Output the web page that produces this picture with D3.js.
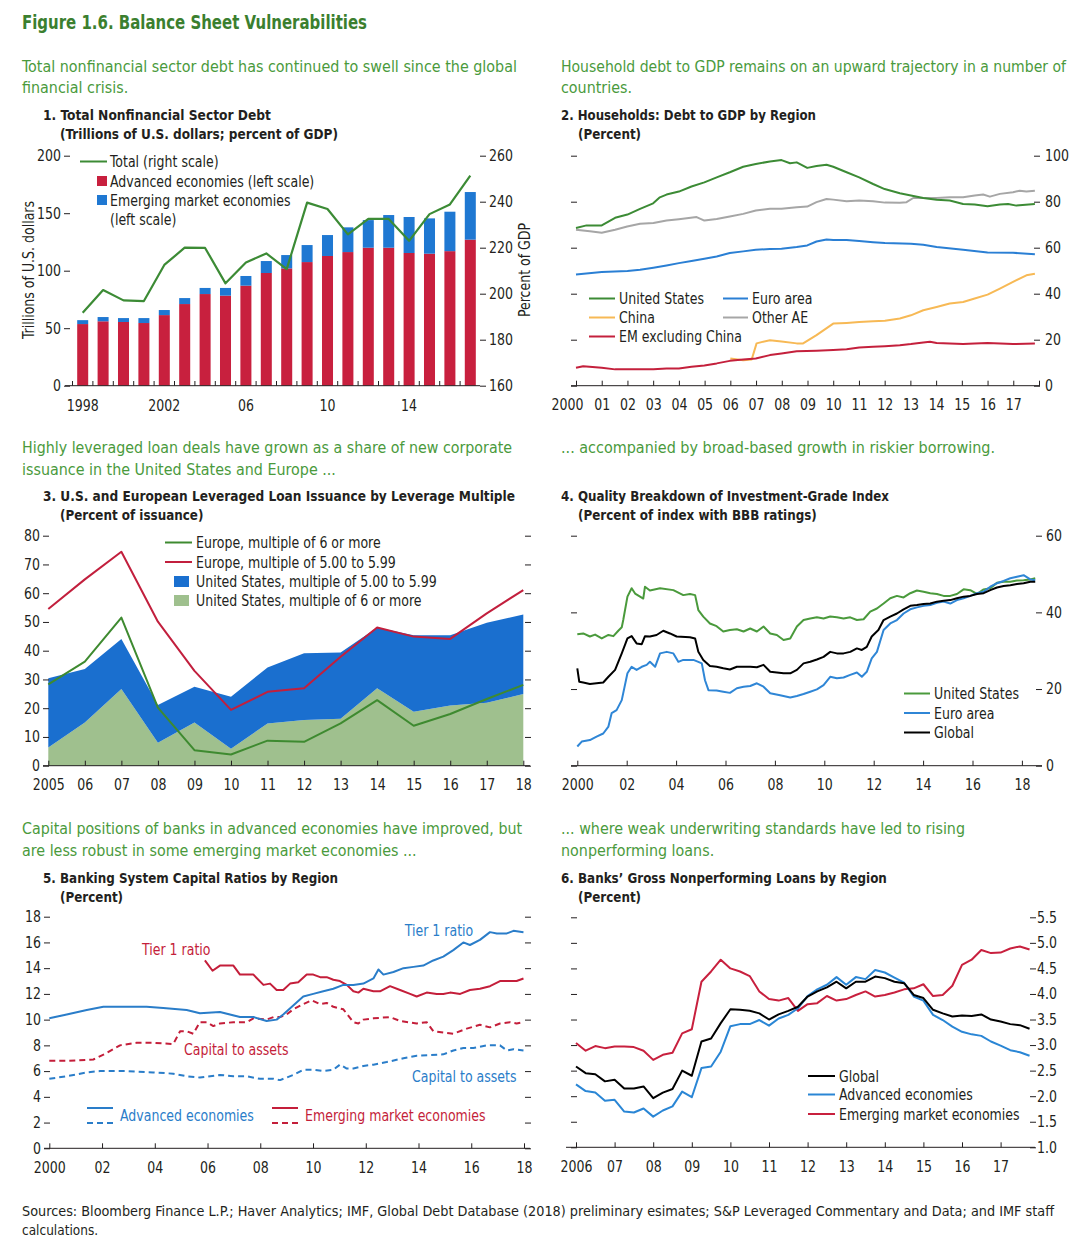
<!DOCTYPE html>
<html><head><meta charset="utf-8">
<script src="https://cdn.jsdelivr.net/npm/d3@7"></script>
<style>
body{margin:0;background:#fff;}
svg text{font-family:"Liberation Sans Narrow","DejaVu Sans Condensed","Arial Narrow",sans-serif;}
</style></head><body>
<svg id="c" width="1088" height="1242"></svg>
<script>
// ---------------- DATA ----------------
// Panel 1
const p1Years = ["1998","1999","2000","2001","2002","2003","2004","2005","2006","2007","2008","2009","2010","2011","2012","2013","2014","2015","2016","2017"];
const p1Adv = [53.6,56,55.4,54.5,61.4,71,79.7,78.3,87,98,102,107.5,112.8,116.2,120,120,115.4,114.8,117,127];
const p1EM  = [3.4,3.7,3.4,4.3,4.4,5.2,5.3,6.7,8.4,10.4,11.6,14.8,18.2,21.5,24,28.4,31.3,30.7,34.3,41.4];
const p1TotalGDP = [191.7,201.6,197.1,196.8,212.5,220,219.9,204.5,213.6,217.5,210.7,239.6,236.8,225.8,232.5,232.5,223,234.6,238.8,251.3];
const p1TickLabels = {"1998":"1998","2002":"2002","2006":"06","2010":"10","2014":"14"};

// Panel 2 ([year, percent])
const p2US = [[2000,68.6],[2000.41,69.7],[2001,69.7],[2001.52,73],[2002,74.4],[2002.49,76.9],[2003,79.3],[2003.26,81.9],[2003.52,83.1],[2004,84.4],[2004.49,86.6],[2004.99,88.4],[2005.47,90.6],[2005.98,92.8],[2006.5,95.2],[2006.99,96.4],[2007.54,97.5],[2007.99,98.1],[2008.32,96.7],[2008.58,97.1],[2008.99,94.7],[2009.35,95.5],[2009.74,96.1],[2010,95.2],[2010.52,92.8],[2011.01,90.6],[2011.55,87.7],[2012,85.5],[2012.59,83.7],[2013.02,82.7],[2013.5,81.6],[2014.02,80.8],[2014.53,80.5],[2015.05,79],[2015.5,78.8],[2016,78],[2016.48,78.8],[2016.8,79],[2017.12,78.3],[2017.84,79]];
const p2Other = [[2000,67.8],[2000.54,67.2],[2001,66.5],[2001.52,67.8],[2001.99,69.2],[2002.49,70.4],[2003.01,70.7],[2003.52,71.8],[2004,72.4],[2004.69,73.3],[2004.99,71.8],[2005.47,72.5],[2005.98,73.6],[2006.5,74.7],[2006.99,76.2],[2007.54,76.9],[2007.99,76.9],[2008.58,77.6],[2008.99,77.9],[2009.35,79.8],[2009.74,81.2],[2010,80.9],[2010.52,80.2],[2011.01,80.5],[2011.55,80.2],[2012.01,79.6],[2012.59,79.5],[2012.85,79.8],[2013.11,81.6],[2013.5,81.6],[2014.02,81.6],[2014.53,81.9],[2015.05,81.9],[2015.5,82.7],[2015.83,83.1],[2016.09,82.2],[2016.48,83.4],[2016.99,84.1],[2017.25,84.8],[2017.51,84.4],[2017.84,84.8]];
const p2Euro = [[2000,48.4],[2001,49.4],[2002,49.9],[2002.49,50.4],[2003.01,51.3],[2003.52,52.3],[2004,53.3],[2004.49,54.2],[2004.99,55.2],[2005.47,56.2],[2005.98,57.7],[2006.5,58.4],[2006.99,59.1],[2007.54,59.4],[2007.99,59.5],[2008.58,60.3],[2008.99,61],[2009.35,62.7],[2009.74,63.6],[2010,63.4],[2010.52,63.4],[2011.01,62.9],[2011.55,62.4],[2012.01,62],[2013.02,61.7],[2013.5,61.3],[2014.02,60.3],[2015.05,59.1],[2016,57.9],[2016.99,57.8],[2017.84,57.1]];
const p2China = [[2006,11.8],[2006.5,11.1],[2006.83,11.4],[2007.02,18.4],[2007.54,19.8],[2007.99,19.2],[2008.58,18.4],[2008.83,18.4],[2009.35,22],[2010,27],[2010.52,27.3],[2011.01,27.7],[2011.55,28],[2012.01,28.2],[2012.59,29.2],[2013.02,30.6],[2013.5,32.8],[2014.02,34.2],[2014.53,35.7],[2015.05,36.4],[2015.5,37.9],[2016,39.6],[2016.48,42.2],[2016.99,45.1],[2017.51,48],[2017.84,48.7]];
const p2EMx = [[2000,7.8],[2000.28,8.5],[2001,7.8],[2001.52,7.1],[2001.99,7.1],[2003.01,7.1],[2003.52,7.5],[2004,7.5],[2004.49,8.2],[2004.99,8.8],[2005.47,9.7],[2005.98,10.8],[2006.5,11.4],[2006.99,11.8],[2007.54,13.3],[2007.99,14],[2008.58,15],[2009.35,15.2],[2010,15.5],[2010.52,15.8],[2011.01,16.6],[2011.55,16.9],[2012.01,17.2],[2012.59,17.6],[2013.02,18.1],[2013.5,18.8],[2013.76,19.1],[2014.02,18.6],[2014.53,18.4],[2015.05,18.1],[2015.5,18.4],[2016,18.6],[2016.99,18.1],[2017.84,18.4]];
const p2Ticks = [2000,2001,2002,2003,2004,2005,2006,2007,2008,2009,2010,2011,2012,2013,2014,2015,2016,2017,2018];
const p2TickLabels = ["2000","01","02","03","04","05","06","07","08","09","10","11","12","13","14","15","16","17",""];

// Panel 3
const p3Years = [2005,2006,2007,2008,2009,2010,2011,2012,2013,2014,2015,2016,2017,2018];
const p3USsix  = [6.3,15,26.7,8,15,5.9,14.7,15.9,16.3,26.9,18.8,20.9,21.9,24.9];
const p3USfive = [24.1,18.6,17.4,13.1,12.5,18.1,19.5,23.2,23.1,21.2,26.6,24.5,27.8,27.7];
const p3EUsix  = [28.3,36.2,51.5,20.2,5.4,3.9,8.7,8.3,14.7,22.8,13.9,18,23.2,28.1];
const p3EUfive = [54.5,64.8,74.4,50.1,33,19.4,25.7,26.9,37.9,48.1,44.9,44.1,53,61.1];
const p3TickLabels = ["2005","06","07","08","09","10","11","12","13","14","15","16","17","18"];

// Panel 4 ([year, percent BBB])
const p4US = [[2000,34.3],[2000.24,34.5],[2000.51,33.7],[2000.72,34.2],[2000.99,33.2],[2001.26,34.1],[2001.46,33.8],[2001.66,35.2],[2001.8,36.1],[2001.86,38],[2002.03,44.1],[2002.2,46.3],[2002.34,44.9],[2002.54,44.1],[2002.67,43.6],[2002.74,46.7],[2002.94,45.7],[2003.35,46.3],[2003.89,45.8],[2004.29,44.5],[2004.56,44.8],[2004.77,44.5],[2004.9,40.6],[2005.1,38.9],[2005.37,37.1],[2005.64,36.4],[2005.91,35],[2006.18,35.4],[2006.46,35.6],[2006.73,35],[2007,35.8],[2007.27,35],[2007.54,36.3],[2007.81,34.5],[2008.08,34.1],[2008.35,32.8],[2008.62,33.2],[2008.89,36.3],[2009.16,38],[2009.43,38.4],[2009.7,38.7],[2009.97,38.4],[2010.24,38.9],[2010.51,38.7],[2010.78,38.4],[2011.05,38.7],[2011.32,38],[2011.59,38.2],[2011.86,40.2],[2012.13,41],[2012.4,42.3],[2012.67,43.7],[2012.94,44.3],[2013.21,43.9],[2013.48,45],[2013.75,45.7],[2014.02,45.4],[2014.29,45],[2014.56,44.8],[2014.83,44.3],[2015.1,44.3],[2015.37,44.8],[2015.64,46],[2015.91,45.8],[2016.18,44.8],[2016.45,46],[2016.72,46.3],[2016.99,47.7],[2017.26,48],[2017.53,48],[2017.8,48.3],[2018.07,48.4],[2018.34,48.6],[2018.54,48.9]];
const p4EU = [[2000,5],[2000.18,6.3],[2000.51,6.7],[2000.78,7.6],[2001.05,8.4],[2001.26,10.2],[2001.39,13.7],[2001.59,14.5],[2001.8,17.1],[2002.03,24.1],[2002.2,25.8],[2002.4,25],[2002.61,25.8],[2002.81,26.3],[2002.94,27.1],[2003.15,25.8],[2003.35,29.3],[2003.62,29.7],[2003.89,29.3],[2004.09,27.1],[2004.29,27.6],[2004.7,27.6],[2004.9,27.1],[2005.04,26.7],[2005.17,22.3],[2005.31,19.7],[2005.64,19.6],[2005.91,19.3],[2006.18,19],[2006.46,20.2],[2006.73,20.6],[2007,20.8],[2007.27,21.5],[2007.54,20.6],[2007.81,18.9],[2008.21,18.4],[2008.62,17.8],[2008.89,18.2],[2009.16,18.7],[2009.43,19.3],[2009.7,19.9],[2009.97,21],[2010.24,23.2],[2010.51,22.8],[2010.78,23],[2011.05,23.7],[2011.32,24.3],[2011.52,23.2],[2011.72,24.5],[2011.92,28],[2012.13,29.7],[2012.4,35.4],[2012.67,37.1],[2012.94,38],[2013.21,39.7],[2013.48,40.8],[2013.75,41.3],[2014.02,41.7],[2014.29,41.9],[2014.56,42.5],[2014.83,42.8],[2015.1,42.3],[2015.37,43.2],[2015.64,43.7],[2015.91,44.3],[2016.18,45],[2016.45,45.4],[2016.72,46.7],[2016.99,47.6],[2017.26,48.2],[2017.53,48.9],[2017.8,49.3],[2018.07,49.7],[2018.34,48.6],[2018.54,48.4]];
const p4GL = [[2000,25.4],[2000.08,21.9],[2000.24,21.7],[2000.51,21.3],[2000.78,21.5],[2001.05,21.7],[2001.26,23.2],[2001.53,25],[2001.8,29.3],[2002.03,33.2],[2002.2,33.8],[2002.4,31.9],[2002.61,31.7],[2002.74,33.8],[2002.94,33.7],[2003.21,34.1],[2003.48,35.2],[2003.75,34.5],[2004.02,33.7],[2004.56,33.5],[2004.77,33.2],[2004.9,29.7],[2005.1,27.6],[2005.37,26],[2005.64,25.8],[2005.91,25.4],[2006.18,25.1],[2006.46,25.8],[2006.73,25.8],[2007,25.8],[2007.27,25.7],[2007.54,26.3],[2007.81,24.5],[2008.08,24.3],[2008.35,24.1],[2008.62,24.1],[2008.89,25],[2009.16,26.7],[2009.43,27.1],[2009.7,27.7],[2009.97,28.4],[2010.24,29.7],[2010.51,29.3],[2010.78,29.3],[2011.05,29.7],[2011.32,30.6],[2011.52,30.2],[2011.72,31],[2011.92,33.7],[2012.19,35.4],[2012.4,38],[2012.67,38.9],[2012.94,39.7],[2013.21,40.8],[2013.48,41.7],[2013.75,41.9],[2014.02,42.2],[2014.29,42.3],[2014.56,42.8],[2014.83,43],[2015.1,43.2],[2015.37,43.7],[2015.64,44.1],[2015.91,44.3],[2016.18,44.8],[2016.45,45],[2016.72,45.8],[2016.99,46.5],[2017.26,46.9],[2017.53,47.1],[2017.8,47.4],[2018.07,47.6],[2018.34,48],[2018.54,48]];
const p4Ticks = [2000,2002,2004,2006,2008,2010,2012,2014,2016,2018];
const p4TickLabels = ["2000","02","04","06","08","10","12","14","16","18"];

// Panel 5 ([year, percent])
const p5AEtier1 = [[2000,10.1],[2000.66,10.4],[2001.42,10.75],[2002.05,11],[2002.68,11],[2003.69,11],[2004.32,10.9],[2005.21,10.75],[2005.71,10.5],[2006.47,10.6],[2007.23,10.2],[2007.74,10.2],[2008.24,9.9],[2008.62,10],[2008.87,10.4],[2009.25,11.1],[2009.63,11.8],[2010.01,12],[2010.39,12.2],[2010.77,12.4],[2011.15,12.7],[2011.53,12.7],[2011.91,12.8],[2012.29,13.2],[2012.48,13.9],[2012.67,13.5],[2013.05,13.7],[2013.43,14],[2013.81,14.1],[2014.18,14.2],[2014.56,14.6],[2014.94,14.9],[2015.32,15.4],[2015.7,16],[2015.95,15.8],[2016.33,16.2],[2016.71,16.8],[2016.97,16.7],[2017.35,16.7],[2017.6,16.9],[2017.98,16.8]];
const p5AEcap = [[2000,5.4],[2000.66,5.6],[2001.42,5.9],[2001.92,6],[2002.93,6],[2003.94,5.9],[2004.7,5.8],[2005.21,5.6],[2005.71,5.5],[2006.47,5.7],[2006.98,5.6],[2007.48,5.6],[2007.99,5.4],[2008.5,5.4],[2008.75,5.3],[2009.25,5.7],[2009.63,6.1],[2010.01,6.1],[2010.39,6],[2010.77,6.1],[2011.02,6.5],[2011.28,6.2],[2011.53,6.2],[2011.91,6.4],[2012.29,6.5],[2012.79,6.7],[2013.43,7],[2013.93,7.2],[2014.94,7.3],[2015.32,7.6],[2015.7,7.8],[2016.08,7.8],[2016.59,8],[2017.09,8],[2017.35,7.6],[2017.6,7.7],[2017.98,7.6]];
const p5EMtier1 = [[2005.9,14.6],[2006.19,13.8],[2006.47,14.2],[2006.73,14.2],[2006.98,14.2],[2007.23,13.5],[2007.74,13.5],[2008.12,12.7],[2008.37,12.8],[2008.62,12.3],[2008.87,12.3],[2009.13,12.8],[2009.44,12.9],[2009.76,13.5],[2010.01,13.5],[2010.27,13.3],[2010.52,13.3],[2010.77,13.1],[2011.02,13],[2011.28,12.7],[2011.53,12.2],[2011.72,12.1],[2011.91,12.4],[2012.29,12.2],[2012.54,12.2],[2012.92,12.6],[2013.3,12.3],[2013.68,12],[2013.93,11.8],[2014.31,12.1],[2014.69,12],[2014.94,12],[2015.2,12.1],[2015.58,12],[2015.95,12.3],[2016.33,12.4],[2016.71,12.6],[2017.09,13],[2017.47,13],[2017.72,13],[2017.98,13.2]];
const p5EMcap = [[2000,6.8],[2000.66,6.8],[2001.67,6.9],[2002.17,7.4],[2002.68,8],[2003.31,8.2],[2003.94,8.2],[2004.7,8.1],[2004.96,9.1],[2005.21,9.1],[2005.46,8.9],[2005.71,9.8],[2005.97,9.8],[2006.22,9.5],[2006.47,9.7],[2006.98,9.8],[2007.48,9.8],[2007.74,10.1],[2008.24,10],[2008.5,10.2],[2008.75,10.2],[2009,10.4],[2009.25,10.8],[2009.63,11.2],[2009.95,11.5],[2010.27,11.2],[2010.52,11.3],[2010.77,11],[2011.15,10.8],[2011.53,9.8],[2011.72,9.7],[2011.91,10],[2012.29,10.1],[2012.92,10.2],[2013.3,9.9],[2013.93,9.7],[2014.31,9.8],[2014.56,9.1],[2014.94,9],[2015.32,8.9],[2015.83,9.3],[2016.33,9.6],[2016.71,9.4],[2017.09,9.7],[2017.47,9.8],[2017.72,9.7],[2017.98,9.8]];
const p5Ticks = [2000,2002,2004,2006,2008,2010,2012,2014,2016,2018];
const p5TickLabels = ["2000","02","04","06","08","10","12","14","16","18"];

// Panel 6 (quarterly)
const p6Quarters = ["2006Q1","2006Q2","2006Q3","2006Q4","2007Q1","2007Q2","2007Q3","2007Q4","2008Q1","2008Q2","2008Q3","2008Q4","2009Q1","2009Q2","2009Q3","2009Q4","2010Q1","2010Q2","2010Q3","2010Q4","2011Q1","2011Q2","2011Q3","2011Q4","2012Q1","2012Q2","2012Q3","2012Q4","2013Q1","2013Q2","2013Q3","2013Q4","2014Q1","2014Q2","2014Q3","2014Q4","2015Q1","2015Q2","2015Q3","2015Q4","2016Q1","2016Q2","2016Q3","2016Q4","2017Q1","2017Q2","2017Q3","2017Q4"];
const p6Global = [2.58,2.45,2.43,2.29,2.32,2.15,2.15,2.19,1.96,2.07,2.14,2.5,2.4,3.07,3.13,3.43,3.7,3.69,3.67,3.62,3.5,3.6,3.67,3.75,3.95,4.05,4.13,4.24,4.11,4.24,4.24,4.34,4.31,4.24,4.21,3.98,3.92,3.69,3.62,3.56,3.58,3.57,3.6,3.5,3.46,3.41,3.39,3.32];
const p6AE = [2.23,2.1,2.07,1.91,1.93,1.7,1.68,1.76,1.6,1.72,1.8,2.09,1.98,2.55,2.58,2.87,3.37,3.41,3.41,3.49,3.38,3.52,3.59,3.72,3.96,4.09,4.18,4.33,4.18,4.33,4.29,4.47,4.42,4.32,4.22,3.95,3.87,3.59,3.49,3.36,3.26,3.21,3.18,3.07,2.99,2.9,2.86,2.79];
const p6EM = [3.04,2.89,2.98,2.94,2.97,2.97,2.96,2.89,2.71,2.81,2.85,3.23,3.31,4.24,4.44,4.67,4.5,4.44,4.35,4.05,3.9,3.87,3.92,3.67,3.8,3.82,3.96,3.87,3.9,3.98,4.05,3.95,3.98,4.03,4.09,4.11,4.19,3.96,3.98,4.16,4.57,4.67,4.86,4.8,4.81,4.89,4.93,4.87];
const p6Ticks = [2006,2007,2008,2009,2010,2011,2012,2013,2014,2015,2016,2017];
const p6TickLabels = ["2006","07","08","09","10","11","12","13","14","15","16","17"];
const p6YTicks = [1.0,1.5,2.0,2.5,3.0,3.5,4.0,4.5,5.0,5.5];

// ---------------- DRAW ----------------
const svg = d3.select("#c");
const INK = "#231f20";
const G_TITLE = "#3b7f2f", G_SUB = "#4a9a3c";

function squeeze(node, k, target) {
  const w = node.getComputedTextLength();
  if (!w) return;
  node.setAttribute("textLength", target || w * k);
  node.setAttribute("lengthAdjust", "spacingAndGlyphs");
}
function T(x, y, s, o = {}) {
  const t = svg.append("text").attr("x", x).attr("y", y).text(s)
    .attr("font-size", o.size || (o.bold ? 14.6 : 15)).attr("font-weight", o.bold ? "bold" : "normal")
    .attr("fill", o.fill || INK).attr("text-anchor", o.anchor || "start");
  squeeze(t.node(), o.k || (o.bold ? 0.91 : 0.93), o.width);
  return t;
}
function styleAxis(g) {
  g.attr("font-family", null).attr("font-size", 15);
  g.selectAll("text").attr("fill", INK).each(function () { squeeze(this, 0.93); });
  g.selectAll("line").attr("stroke", INK);
  g.select(".domain").remove();
}
function hline(x1, x2, y) {
  svg.append("line").attr("x1", x1).attr("x2", x2).attr("y1", y).attr("y2", y).attr("stroke", INK).attr("stroke-width", 1);
}
function leftAxis(y, x0, vals, fmt) {
  svg.append("g").attr("transform", `translate(${x0},0)`)
    .call(d3.axisLeft(y).tickValues(vals).tickSize(6).tickPadding(3).tickFormat(fmt || (() => "")))
    .call(styleAxis);
}
function rightAxis(y, x0, vals, fmt, pad) {
  svg.append("g").attr("transform", `translate(${x0},0)`)
    .call(d3.axisRight(y).tickValues(vals).tickSize(6).tickPadding(pad == null ? 3 : pad).tickFormat(fmt || (() => "")))
    .call(styleAxis);
}
function bottomAxis(x, y0, vals, labels, x1, x2, firstDx) {
  hline(x1, x2, y0);
  const g = svg.append("g").attr("transform", `translate(0,${y0})`)
    .call(d3.axisBottom(x).tickValues(vals).tickSizeInner(-5).tickSizeOuter(0).tickPadding(14)
      .tickFormat((d, i) => labels[i]))
    .call(styleAxis);
  if (firstDx) g.select(".tick text").attr("dx", firstDx);
}
function legendLine(x1, x2, y, color, label, dash) {
  svg.append("line").attr("x1", x1).attr("x2", x2).attr("y1", y).attr("y2", y)
    .attr("stroke", color).attr("stroke-width", 2).attr("stroke-dasharray", dash || null);
  if (label) T(x2 + 4, y + 5.5, label);
}
function path(data, line, color, w, dash) {
  svg.append("path").datum(data).attr("d", line).attr("fill", "none")
    .attr("stroke", color).attr("stroke-width", w || 2).attr("stroke-linejoin", "round")
    .attr("stroke-dasharray", dash || null);
}

// Header & footer
T(22, 29, "Figure 1.6. Balance Sheet Vulnerabilities", {size: 20, bold: true, fill: G_TITLE, width: 345});
T(22, 1216, "Sources: Bloomberg Finance L.P.; Haver Analytics; IMF, Global Debt Database (2018) preliminary esimates; S&P Leveraged Commentary and Data; and IMF staff", {size: 14.5, width: 1032});
T(22, 1235, "calculations.", {size: 14.5});

// Subtitles / titles
const SUB = {size: 16.4, fill: G_SUB, k: 0.97};
T(22, 72, "Total nonfinancial sector debt has continued to swell since the global", {...SUB, width: 495});
T(22, 93, "financial crisis.", SUB);
T(43, 120, "1. Total Nonfinancial Sector Debt", {bold: true, width: 228});
T(60, 139, "(Trillions of U.S. dollars; percent of GDP)", {bold: true, width: 278});

T(561, 72, "Household debt to GDP remains on an upward trajectory in a number of", {...SUB, size: 15.8, width: 505});
T(561, 93, "countries.", SUB);
T(561, 120, "2. Households: Debt to GDP by Region", {bold: true, width: 255});
T(578, 139, "(Percent)", {bold: true});

T(22, 453, "Highly leveraged loan deals have grown as a share of new corporate", {...SUB, width: 490});
T(22, 475, "issuance in the United States and Europe ...", SUB);
T(43, 501, "3. U.S. and European Leveraged Loan Issuance by Leverage Multiple", {bold: true, width: 472});
T(60, 520, "(Percent of issuance)", {bold: true});

T(561, 453, "... accompanied by broad-based growth in riskier borrowing.", {...SUB, width: 434});
T(561, 501, "4. Quality Breakdown of Investment-Grade Index", {bold: true, width: 328});
T(578, 520, "(Percent of index with BBB ratings)", {bold: true});

T(22, 834, "Capital positions of banks in advanced economies have improved, but", {...SUB, width: 500});
T(22, 856, "are less robust in some emerging market economies ...", SUB);
T(43, 883, "5. Banking System Capital Ratios by Region", {bold: true});
T(60, 902, "(Percent)", {bold: true});

T(561, 834, "... where weak underwriting standards have led to rising", {...SUB, width: 404});
T(561, 856, "nonperforming loans.", SUB);
T(561, 883, "6. Banks\u2019 Gross Nonperforming Loans by Region", {bold: true});
T(578, 902, "(Percent)", {bold: true});

// ---------- Panel 1 ----------
{
  const RED = "#c8203e", BLUE = "#1f78d2", GREEN = "#3c8b35";
  const x = d3.scaleBand().domain(p1Years).range([72.5, 480.5]).paddingInner(0.46).paddingOuter(0.23);
  const yL = d3.scaleLinear().domain([0, 200]).range([385.7, 155.7]);
  const yR = d3.scaleLinear().domain([160, 260]).range([385.7, 155.7]);
  const rows = p1Years.map((yr, i) => ({yr, adv: p1Adv[i], em: p1EM[i]}));
  const stack = d3.stack().keys(["adv", "em"])(rows);
  const cols = {adv: RED, em: BLUE};
  stack.forEach(s => {
    svg.append("g").selectAll("rect").data(s).join("rect")
      .attr("x", d => x(d.data.yr)).attr("width", x.bandwidth())
      .attr("y", d => yL(d[1])).attr("height", d => yL(d[0]) - yL(d[1]))
      .attr("fill", cols[s.key]);
  });
  const line = d3.line().x((d, i) => x(p1Years[i]) + x.bandwidth() / 2).y(d => yR(d));
  path(p1TotalGDP, line, GREEN, 2.2);
  leftAxis(yL, 70, [0, 50, 100, 150, 200], d3.format("d"));
  rightAxis(yR, 480, [160, 180, 200, 220, 240, 260], d3.format("d"));
  hline(65, 480, 385.7);
  const step = x.step();
  svg.append("g").selectAll("line").data(p1Years).join("line")
    .attr("x1", d => x(d) - (step - x.bandwidth()) / 2).attr("x2", d => x(d) - (step - x.bandwidth()) / 2)
    .attr("y1", 385.7).attr("y2", 381).attr("stroke", INK);
  svg.append("g").selectAll("text").data(p1Years.filter(d => p1TickLabels[d])).join("text")
    .attr("x", d => x(d) + x.bandwidth() / 2).attr("y", 410.5).attr("text-anchor", "middle")
    .attr("font-size", 15).attr("fill", INK).text(d => p1TickLabels[d])
    .each(function () { squeeze(this, 0.93); });
  T(0, 0, "Trillions of U.S. dollars", {anchor: "middle"}).attr("transform", "translate(34,270) rotate(-90)");
  T(0, 0, "Percent of GDP", {anchor: "middle"}).attr("transform", "translate(530,270) rotate(-90)");
  legendLine(80, 107, 161.5, GREEN, null);
  T(110, 167, "Total (right scale)");
  svg.append("rect").attr("x", 97).attr("y", 176).attr("width", 10).attr("height", 10).attr("fill", RED);
  T(110, 186.5, "Advanced economies (left scale)");
  svg.append("rect").attr("x", 97).attr("y", 195).attr("width", 10).attr("height", 10).attr("fill", BLUE);
  T(110, 205.5, "Emerging market economies");
  T(110, 224.5, "(left scale)");
}

// ---------- Panel 2 ----------
{
  const x = d3.scaleLinear().domain([2000, 2018]).range([576, 1039]);
  const y = d3.scaleLinear().domain([0, 100]).range([385.7, 155.7]);
  const line = d3.line().x(d => x(d[0])).y(d => y(d[1]));
  path(p2Other, line, "#a6a6a6");
  path(p2Euro, line, "#2a7fd4");
  path(p2US, line, "#3c8b35");
  path(p2China, line, "#f7b955");
  path(p2EMx, line, "#c4203c");
  leftAxis(y, 577, [0, 20, 40, 60, 80, 100]);
  rightAxis(y, 1034, [0, 20, 40, 60, 80, 100], d3.format("d"), 5);
  bottomAxis(x, 385.7, p2Ticks, p2TickLabels, 571, 1040, -9);
  legendLine(589, 615, 298.5, "#3c8b35", "United States");
  legendLine(723, 748, 298.5, "#2a7fd4", "Euro area");
  legendLine(589, 615, 317.5, "#f7b955", "China");
  legendLine(723, 748, 317.5, "#a6a6a6", "Other AE");
  legendLine(589, 615, 336.5, "#c4203c", "EM excluding China");
}

// ---------- Panel 3 ----------
{
  const x = d3.scaleLinear().domain([2005, 2018]).range([48.3, 523.3]);
  const y = d3.scaleLinear().domain([0, 80]).range([765.7, 535.7]);
  const rows = p3Years.map((yr, i) => ({yr, six: p3USsix[i], five: p3USfive[i]}));
  const st = d3.stack().keys(["six", "five"])(rows);
  const area = d3.area().x(d => x(d.data.yr)).y0(d => y(d[0])).y1(d => y(d[1]));
  const fills = {six: "#9fc08e", five: "#1a6fcf"};
  st.forEach(s => svg.append("path").datum(s).attr("d", area).attr("fill", fills[s.key]));
  const line = d3.line().x((d, i) => x(p3Years[i])).y(d => y(d));
  path(p3EUfive, line, "#c21f3d");
  path(p3EUsix, line, "#3e8a30");
  leftAxis(y, 49, [0, 10, 20, 30, 40, 50, 60, 70, 80], d3.format("d"));
  rightAxis(y, 525, [0, 10, 20, 30, 40, 50, 60, 70, 80]);
  bottomAxis(x, 765.7, p3Years, p3TickLabels, 43, 530);
  legendLine(165, 192, 542.5, "#3e8a30", "Europe, multiple of 6 or more");
  legendLine(165, 192, 562, "#c21f3d", "Europe, multiple of 5.00 to 5.99");
  svg.append("rect").attr("x", 174).attr("y", 576).attr("width", 15).attr("height", 11).attr("fill", "#1a6fcf");
  T(196, 587, "United States, multiple of 5.00 to 5.99");
  svg.append("rect").attr("x", 174).attr("y", 595).attr("width", 15).attr("height", 11).attr("fill", "#9fc08e");
  T(196, 606, "United States, multiple of 6 or more");
}

// ---------- Panel 4 ----------
{
  const x = d3.scaleLinear().domain([2000, 2018]).range([577.3, 1021.9]);
  const y = d3.scaleLinear().domain([0, 60]).range([765.7, 535.7]);
  const line = d3.line().x(d => x(d[0])).y(d => y(d[1]));
  path(p4US, line, "#4a9a3c", 2);
  path(p4EU, line, "#2f86d6", 2);
  path(p4GL, line, "#000", 2);
  leftAxis(y, 577, [0, 20, 40, 60]);
  rightAxis(y, 1036, [0, 20, 40, 60], d3.format("d"), 4);
  bottomAxis(x, 765.7, p4Ticks, p4TickLabels, 571, 1042);
  legendLine(904, 930, 693.5, "#4a9a3c", "United States");
  legendLine(904, 930, 713, "#2f86d6", "Euro area");
  legendLine(904, 930, 732.5, "#000", "Global");
}

// ---------- Panel 5 ----------
{
  const BLUE = "#2a7dc9", RED = "#c41e3a";
  const x = d3.scaleLinear().domain([2000, 2018]).range([49.3, 524]);
  const y = d3.scaleLinear().domain([0, 18]).range([1148.3, 916.7]);
  const line = d3.line().x(d => x(d[0])).y(d => y(d[1]));
  path(p5EMcap, line, RED, 2, "6,4");
  path(p5AEcap, line, BLUE, 2, "6,4");
  path(p5EMtier1, line, RED, 2);
  path(p5AEtier1, line, BLUE, 2);
  const yt = [0, 2, 4, 6, 8, 10, 12, 14, 16, 18];
  leftAxis(y, 50, yt, d3.format("d"));
  rightAxis(y, 525, yt);
  bottomAxis(x, 1148.3, p5Ticks, p5TickLabels, 44, 530);
  T(439, 935.5, "Tier 1 ratio", {fill: BLUE, anchor: "middle"});
  T(142, 954.5, "Tier 1 ratio", {fill: RED});
  T(184, 1054.5, "Capital to assets", {fill: RED});
  T(412, 1081.5, "Capital to assets", {fill: BLUE});
  legendLine(87, 113, 1108, BLUE, null);
  legendLine(87, 113, 1123, BLUE, null, "6,4");
  T(120, 1120.5, "Advanced economies", {fill: BLUE});
  legendLine(272, 298, 1108, RED, null);
  legendLine(272, 298, 1123, RED, null, "6,4");
  T(305, 1120.5, "Emerging market economies", {fill: RED});
}

// ---------- Panel 6 ----------
{
  const qd = q => +q.slice(0, 4) + (+q.slice(5) - 1) / 4;
  const x = d3.scaleLinear().domain([2006, 2018]).range([576, 1039.2]);
  const y = d3.scaleLinear().domain([1.0, 5.5]).range([1147.3, 917.3]);
  const line = d3.line().x((d, i) => x(qd(p6Quarters[i]))).y(d => y(d));
  path(p6EM, line, "#c8203e");
  path(p6AE, line, "#2a86d5");
  path(p6Global, line, "#000");
  leftAxis(y, 577, p6YTicks);
  rightAxis(y, 1030, p6YTicks, d3.format(".1f"), 1);
  bottomAxis(x, 1147.3, p6Ticks, p6TickLabels, 566, 1035);
  legendLine(808, 835, 1076, "#000", "Global");
  legendLine(808, 835, 1094.5, "#2a86d5", "Advanced economies");
  legendLine(808, 835, 1114, "#c8203e", "Emerging market economies");
}
</script>
</body></html>
